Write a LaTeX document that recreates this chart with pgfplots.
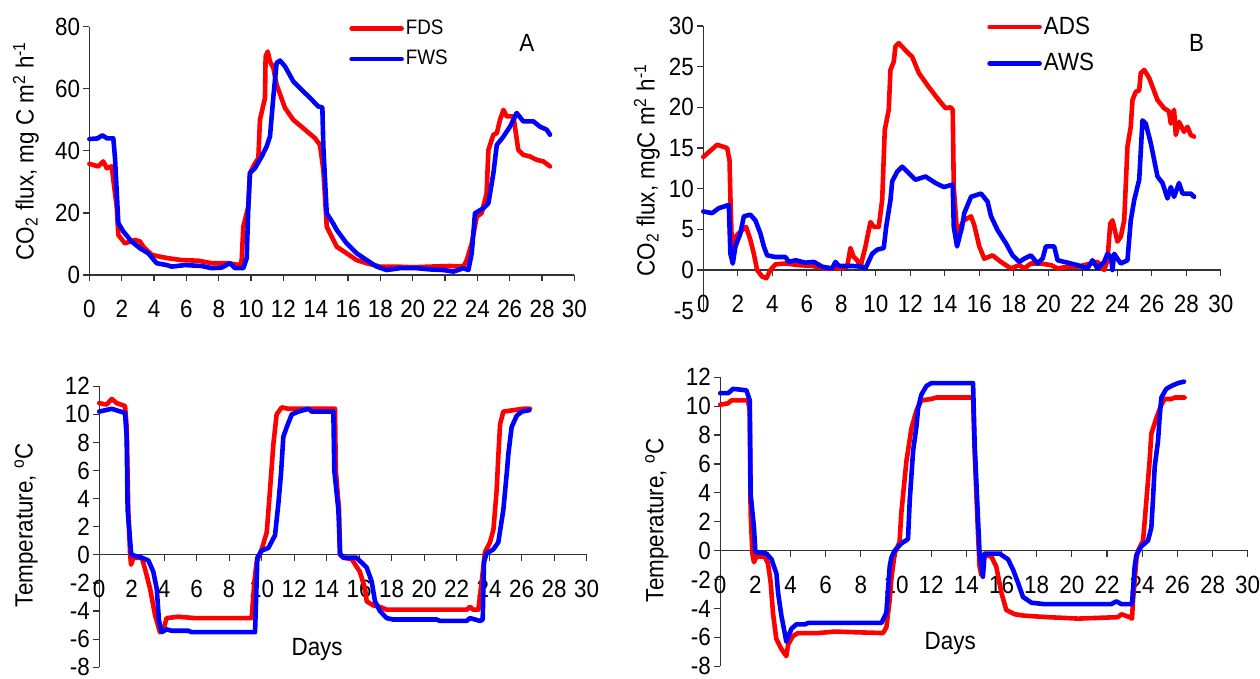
\documentclass[border=0pt]{standalone}
\usepackage{pgfplots}
\pgfplotsset{compat=1.18}
\usepackage{fontspec}
\setmainfont{Liberation Sans}[FakeStretch=0.9]

\pgfplotsset{
  panel/.style={
    scale only axis,
    axis lines=middle,
    axis line style={-, black!80, line width=0.6bp},
    xmin=0, xmax=30,
    xtick={0,2,...,30},
    xticklabels={0,2,4,6,8,10,12,14,16,18,20,22,24,26,28,30},
    tick align=outside,
    major tick length=3bp,
    tick style={black!80, line width=0.6bp},
    hide obscured x ticks=false,
    hide obscured y ticks=false,
    xticklabel style={anchor=center, yshift=-14bp},
    yticklabel style={anchor=east, inner sep=0pt, xshift=-1.5bp},
    clip=false,
    anchor=south west,
  },
  dat/.style={line width=2.3bp, line join=round, line cap=round},
  leg/.style={
    legend style={draw=none, fill=none, inner sep=0pt,
      font=\fontsize{#1}{#1}\selectfont,
      nodes={inner sep=1bp}},
    legend cell align=left,
    legend image code/.code={\draw[##1, line width=2.3bp] (0bp,0bp) -- (25bp,0bp);},
  },
}

\begin{document}
\begin{tikzpicture}[font=\fontsize{12.5}{14}\selectfont]
\useasboundingbox (0,0) rectangle (630bp,339.5bp);

% A: flux, F soils
\begin{axis}[panel, at={(44.7bp,202bp)}, width=242.5bp, height=124.15bp,
  ymin=0, ymax=80, ytick={0,20,...,80}, yticklabels={0,20,40,60,80},
  every axis y label/.style={at={(axis description cs:-0.131,0.5)}, rotate=90, anchor=center},
  ylabel={CO\textsubscript{2} flux, mg C m\textsuperscript{2} h\textsuperscript{-1}},
  leg=10.5, legend style={at={(axis description cs:0.535,1.038)}, anchor=north west, row sep=4.5bp}]
\addplot[dat, red] coordinates {
(0,35.8)(0.55,35)(0.86,36.6)(1.07,34.4)(1.38,35)(1.48,30.6)(1.69,22)(1.79,12.9)
(2.2,10.2)(2.82,11.3)(3.13,10.8)(3.34,9.1)(3.85,6.5)(4.37,5.9)(4.88,5.4)(5.71,4.8)
(6.74,4.6)(7.56,3.8)(8.59,3.8)(9.32,3.2)(9.42,4.8)(9.52,15.6)(9.83,22)(9.93,32.8)
(10.24,36)(10.45,37.6)(10.55,50)(10.86,57)(10.9,70.4)(11.03,72)(11.17,68.8)(11.38,66.7)
(11.58,61.3)(12.1,53.8)(12.61,50)(13.34,46.8)(13.95,44.1)(14.26,41.9)(14.47,33.9)
(14.68,15.6)(15.09,11.3)(15.3,9.1)(15.91,7)(16.53,4.8)(17.15,3.8)(17.98,2.7)(19.01,2.7)
(20.04,2.5)(21.07,2.7)(22.3,2.9)(23.14,2.7)(23.34,4.8)(23.65,10.2)(23.96,18.8)
(24.26,19.9)(24.57,26.3)(24.68,40.3)(24.99,45.2)(25.2,45.7)(25.4,50)(25.61,53.2)
(25.81,51.1)(26.23,51.1)(26.53,40.3)(26.84,38.7)(27.25,38.2)(27.67,37.1)(28.08,36.6)(28.49,35)
};
\addlegendentry{FDS}
\addplot[dat, blue] coordinates {
(0,43.8)(0.5,44)(0.8,45)(1.1,44)(1.48,44)(1.58,38)(1.79,16.7)(2.1,14)(2.61,10.8)
(3.13,8.6)(3.64,7)(4.16,3.8)(4.78,3.2)(5.09,2.7)(5.91,3.2)(6.94,2.9)(7.56,2.2)(8.18,2.4)
(8.7,3.8)(9.01,2.2)(9.52,2.2)(9.73,5.4)(9.83,22)(9.93,32.8)(10.24,34.4)(10.66,38.2)
(10.96,41.4)(11.17,44.6)(11.38,57.5)(11.58,68.3)(11.79,69.1)(12.1,67.2)(12.61,62.4)
(13.13,59.7)(13.75,56.5)(14.16,54.3)(14.41,54)(14.47,41.4)(14.68,19.9)(15.09,16.5)
(15.3,14.5)(15.91,10.2)(16.53,7)(17.15,4.8)(17.77,2.7)(18.39,1.6)(19.21,2.2)(20.24,2.2)
(21.07,1.8)(21.89,1.6)(22.51,1.1)(23.14,2.2)(23.44,1.6)(23.65,7)(23.85,19.9)(24.37,21.5)
(24.68,23.1)(24.99,32.8)(25.2,41.9)(25.61,44.6)(26.02,47.8)(26.43,52.2)(26.84,49.5)
(27.46,49.5)(27.87,47.8)(28.29,46.8)(28.49,45.2)
};
\addlegendentry{FWS}
\node at (axis description cs:0.902,0.933) {A};
\end{axis}

% B: flux, A soils
\begin{axis}[panel, at={(351.65bp,184.15bp)}, width=258.75bp, height=142.35bp,
  ymin=-5, ymax=30, ytick={-5,0,...,30}, yticklabels={-5,0,5,10,15,20,25,30},
  every axis y label/.style={at={(axis description cs:-0.109,0.494)}, rotate=90, anchor=center},
  ylabel={CO\textsubscript{2} flux, mgC m\textsuperscript{2} h\textsuperscript{-1}},
  leg=12.5, legend style={at={(axis description cs:0.548,1.04)}, anchor=north west, row sep=6bp}]
\addplot[dat, red] coordinates {
(0,13.9)(0.32,14.5)(0.8,15.4)(1.38,15)(1.52,13.5)(1.57,9)(1.67,2)(1.86,4.1)(2.25,4.9)
(2.48,5.3)(2.73,3.7)(2.93,2)(3.12,0)(3.41,-0.8)(3.66,-1)(3.89,0)(4.18,0.7)(4.76,0.8)
(5.54,0.6)(6.31,0.5)(7.08,0.2)(7.86,0.2)(8.34,0.4)(8.53,2.7)(8.72,1.6)(8.92,1.2)(9.11,0.4)
(9.4,2.9)(9.69,5.9)(9.89,5.3)(10.17,5.3)(10.37,8.6)(10.52,17.2)(10.75,19.7)(10.85,24.6)
(11.04,25.6)(11.14,27.5)(11.33,27.9)(11.72,27)(12.11,26.2)(12.5,24.2)(13.07,22.5)
(13.65,20.9)(14.04,19.9)(14.33,20)(14.46,19.7)(14.52,10.2)(14.71,4.5)(15.1,6.1)
(15.52,6.6)(15.71,5.5)(16,2.9)(16.29,1.4)(16.77,1.8)(17.25,1)(17.83,0.2)(18.32,0.6)
(18.61,0.2)(18.99,0.8)(19.57,0.8)(20.15,0.6)(20.54,0.2)(21.12,0.4)(21.69,0.4)(22.47,0.8)
(22.85,1)(23.24,0)(23.43,1.2)(23.59,5.7)(23.72,6.1)(24.01,3.5)(24.2,4.1)(24.4,6.1)
(24.59,15.2)(24.78,17.6)(24.88,20.9)(25.07,21.9)(25.27,22.1)(25.36,24.2)(25.56,24.6)
(25.85,23.6)(26.33,20.9)(26.71,19.9)(27,19.5)(27.1,18)(27.29,19.7)(27.39,16.6)
(27.58,18.2)(27.87,17)(28.07,17.6)(28.26,16.6)(28.45,16.4)
};
\addlegendentry{ADS}
\addplot[dat, blue] coordinates {
(0,7.2)(0.51,7)(0.9,7.6)(1.48,8)(1.57,2)(1.71,0.8)(1.86,2.9)(2.15,4.5)(2.35,6.6)
(2.73,6.8)(3.02,6.1)(3.31,4.5)(3.51,2.9)(3.7,1.8)(4.18,1.6)(4.76,1.6)(4.96,1)(5.35,1.2)
(5.92,0.9)(6.41,1)(6.9,0.4)(7.47,0.2)(7.66,1)(7.86,0.5)(8.63,0.5)(9.21,0.4)(9.4,0.2)
(9.79,2)(10.08,2.5)(10.46,2.7)(10.6,5.3)(10.85,8.6)(10.95,10.9)(11.24,12.1)(11.53,12.7)
(11.92,11.9)(12.3,11.1)(12.88,11.5)(13.46,10.7)(13.94,10.2)(14.46,10.5)(14.52,5.3)
(14.71,2.9)(15,5.3)(15.13,7)(15.52,9)(16.1,9.4)(16.48,8.4)(16.68,6.6)(17.06,4.9)
(17.54,3.3)(17.93,1.8)(18.32,1)(18.61,1.4)(18.99,1.8)(19.38,0.8)(19.67,1.4)(19.86,2.9)
(20.34,2.9)(20.54,1.2)(21.12,0.9)(21.69,0.6)(22.27,0.2)(22.56,1.2)(22.85,0.2)(23.24,1)
(23.43,2)(23.63,1.6)(23.72,0)(23.82,2)(24.2,0.8)(24.59,1.2)(24.78,6.1)(24.98,8.6)
(25.27,11.1)(25.46,18.4)(25.65,18)(25.94,15.6)(26.33,11.5)(26.62,10.7)(26.91,8.8)
(27.1,10.2)(27.29,9)(27.58,10.7)(27.78,9.4)(28.26,9.4)(28.45,9)
};
\addlegendentry{AWS}
\node at (axis description cs:0.953,0.939) {B};
\end{axis}

% C: temperature, F soils
\begin{axis}[panel, at={(49.6bp,5.85bp)}, width=243.75bp, height=140.5bp,
  ymin=-8, ymax=12, ytick={-8,-6,...,12}, yticklabels={-8,-6,-4,-2,0,2,4,6,8,10,12},
  every axis y label/.style={at={(axis description cs:-0.150,0.506)}, rotate=90, anchor=center},
  ylabel={Temperature, \textsuperscript{o}C},
  every axis x label/.style={at={(axis description cs:0.447,0.065)}, anchor=center},
  xlabel={Days}]
\addplot[dat, red] coordinates {
(0,10.8)(0.46,10.7)(0.77,11.1)(1.08,10.8)(1.59,10.6)(1.69,9.1)(1.79,3.2)(1.9,0.1)
(1.96,-0.7)(2.1,-0.2)(2.62,-0.2)(2.82,-1)(3.13,-2.4)(3.44,-4.3)(3.74,-5.5)(3.95,-5.3)
(4.15,-4.5)(4.87,-4.4)(5.9,-4.5)(9.38,-4.5)(9.55,-1.9)(9.69,-0.5)(10,0.4)(10.31,1.6)
(10.51,4.6)(10.72,7.9)(10.92,10)(11.23,10.5)(11.64,10.4)(14.51,10.4)(14.56,6)(14.76,3.2)
(14.82,0)(15.03,-0.2)(15.54,-0.3)(16.04,-1.2)(16.36,-2.4)(16.46,-3.3)(16.87,-3.6)
(17.28,-3.7)(17.69,-3.9)(22.61,-3.9)(22.82,-3.7)(23.02,-3.9)(23.33,-3.9)(23.54,-1.9)
(23.74,0.2)(24.05,0.9)(24.26,1.8)(24.46,4.6)(24.56,7)(24.67,9.3)(24.87,10.2)(26.1,10.4)(26.51,10.4)
};
\addplot[dat, blue] coordinates {
(0,10.2)(0.77,10.4)(1.59,10.1)(1.69,8.4)(1.75,3.2)(1.96,0.2)(2,0)(2.62,-0.2)(3.03,-0.4)
(3.33,-1.2)(3.54,-2.4)(3.68,-4.7)(3.85,-5.5)(4.15,-5.3)(4.46,-5.4)(5.49,-5.4)(5.69,-5.5)
(9.59,-5.5)(9.69,-1.9)(9.73,-0.2)(10,0.3)(10.41,0.5)(10.82,1.4)(11.03,3.7)(11.19,5.8)
(11.33,8.4)(11.54,9.1)(11.85,10)(12.26,10.2)(12.87,10.4)(13.08,10.2)(14.41,10.2)(14.47,6)
(14.72,3.2)(14.82,0.1)(15.03,-0.2)(15.84,-0.2)(16.46,-0.9)(16.77,-1.9)(16.97,-3.3)
(17.28,-4)(17.69,-4.5)(18.1,-4.6)(20.77,-4.6)(20.97,-4.7)(22.61,-4.7)(22.82,-4.5)
(23.13,-4.6)(23.44,-4.7)(23.6,-4.6)(23.68,-0.5)(23.84,0.1)(24.26,0.4)(24.56,0.9)
(24.87,3.2)(25.08,5.8)(25.18,7.2)(25.38,9.1)(25.69,9.9)(26,10.2)(26.47,10.3)
};
\end{axis}

% D: temperature, A soils
\begin{axis}[panel, at={(360.1bp,6.35bp)}, width=263.75bp, height=144.5bp,
  ymin=-8, ymax=12, ytick={-8,-6,...,12}, yticklabels={-8,-6,-4,-2,0,2,4,6,8,10,12},
  every axis y label/.style={at={(axis description cs:-0.12,0.506)}, rotate=90, anchor=center},
  ylabel={Temperature, \textsuperscript{o}C},
  every axis x label/.style={at={(axis description cs:0.436,0.08)}, anchor=center},
  xlabel={Days}]
\addplot[dat, red] coordinates {
(0,10.1)(0.45,10.2)(0.63,10.4)(1.58,10.4)(1.68,9.7)(1.73,2.6)(1.83,-0.2)(1.92,-0.8)
(2.06,-0.4)(2.53,-0.4)(2.72,-0.9)(2.87,-2.2)(3,-4.3)(3.19,-6.1)(3.48,-6.8)(3.76,-7.3)
(3.86,-6.5)(4.14,-5.9)(4.43,-5.7)(5.56,-5.7)(6.51,-5.6)(9.26,-5.7)(9.45,-5.3)(9.64,-3.4)
(9.73,-2)(9.92,-0.2)(10.2,0.6)(10.3,2.6)(10.59,6.2)(10.88,8.5)(11.16,9.7)(11.44,10.4)
(12.01,10.5)(12.29,10.6)(14.38,10.6)(14.47,6.9)(14.66,1.2)(14.75,-1.1)(14.85,-1.7)
(14.94,-0.3)(15.42,-0.4)(15.7,-1.1)(15.99,-2.9)(16.27,-4.1)(16.75,-4.4)(17.32,-4.5)
(18.65,-4.6)(20.35,-4.7)(22.62,-4.6)(22.82,-4.4)(23.29,-4.6)(23.42,-4.7)(23.48,-3.4)
(23.67,-0.6)(23.76,0)(24.05,0.7)(24.24,3.5)(24.42,6.2)(24.52,8.1)(24.81,9.2)(25.09,10.1)
(25.28,10.5)(25.66,10.5)(25.85,10.6)(26.41,10.6)
};
\addplot[dat, blue] coordinates {
(0,10.9)(0.45,10.9)(0.73,11.2)(1.49,11.1)(1.68,10.4)(1.73,3.9)(1.92,1.6)(2,-0.1)
(2.63,-0.2)(2.92,-0.6)(3.2,-1.6)(3.29,-2.9)(3.48,-4.5)(3.67,-5.7)(3.76,-6.3)(4.05,-5.4)
(4.33,-5.1)(4.81,-5.1)(5,-5)(9.17,-5)(9.45,-4.3)(9.64,-1.1)(9.73,-0.5)(9.92,0)(10.3,0.5)
(10.68,0.8)(10.78,3.5)(10.97,6.9)(11.16,8.6)(11.26,9.9)(11.44,10.8)(11.73,11.4)(12.01,11.6)
(14.38,11.6)(14.47,7.4)(14.75,-0.2)(14.94,-1.8)(15.04,-0.2)(15.89,-0.2)(16.37,-0.6)
(16.65,-1.3)(16.93,-2.2)(17.22,-3.2)(17.7,-3.6)(18.45,-3.7)(22.24,-3.7)(22.53,-3.5)
(22.82,-3.7)(23.42,-3.7)(23.57,-1.1)(23.67,-0.3)(23.95,0.3)(24.33,0.7)(24.52,1.6)
(24.61,3.5)(24.71,5.8)(24.9,7.6)(25,9.4)(25.09,10.6)(25.37,11.2)(25.66,11.4)(26.04,11.6)(26.38,11.7)
};
\end{axis}
\end{tikzpicture}
\end{document}
